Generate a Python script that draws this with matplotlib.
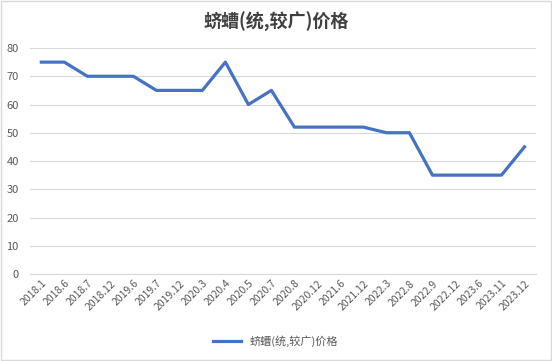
import matplotlib
matplotlib.use("Agg")
import matplotlib.pyplot as plt
from matplotlib.patches import Rectangle

plt.rcParams['font.family'] = ['Noto Sans CJK SC', 'DejaVu Sans']

categories = ["2018.1", "2018.6", "2018.7", "2018.12", "2019.6", "2019.7", "2019.12",
              "2020.3", "2020.4", "2020.5", "2020.7", "2020.8", "2020.12", "2021.6",
              "2021.12", "2022.3", "2022.8", "2022.9", "2022.12", "2023.6", "2023.11", "2023.12"]
values = [75, 75, 70, 70, 70, 65, 65, 65, 75, 60, 65, 52, 52, 52, 52, 50, 50, 35, 35, 35, 35, 45]
series_name = "蛴螬(统,较广)价格"
title = "蛴螬(统,较广)价格"

fig = plt.figure(figsize=(5.52, 3.61), dpi=100)
fig.patches.append(Rectangle((0.002, 0.003), 0.996, 0.994, transform=fig.transFigure,
                             fill=False, edgecolor='#d9d9d9', linewidth=1))
ax = fig.add_axes([0.054, 0.241, 0.917, 0.626])

x = list(range(len(categories)))
ax.plot(x, values, color='#4472C4', linewidth=2.3, label=series_name, solid_joinstyle='round')

ax.set_ylim(0, 80)
ax.set_yticks(range(0, 81, 10))
ax.set_xlim(-0.5, len(categories) - 0.5)
ax.set_xticks(x)
ax.set_xticklabels(categories, rotation=45, ha='right', rotation_mode='anchor', fontsize=7.5, color='#595959')
ax.tick_params(axis='y', labelsize=8, colors='#595959', length=0, pad=8)
ax.tick_params(axis='x', length=0, pad=3)
ax.grid(axis='y', color='#d9d9d9', linewidth=0.8)
ax.set_axisbelow(True)
for s in ['top', 'right', 'left']:
    ax.spines[s].set_visible(False)
ax.spines['bottom'].set_color('#d9d9d9')

fig.text(0.5, 0.94, title, ha='center', va='center', fontsize=13, fontweight='bold', color='#404040')
fig.legend(loc='center', bbox_to_anchor=(0.5, 0.055), frameon=False, fontsize=8,
           handlelength=2.5, labelcolor='#595959')

fig.savefig("out.png", dpi=100)
